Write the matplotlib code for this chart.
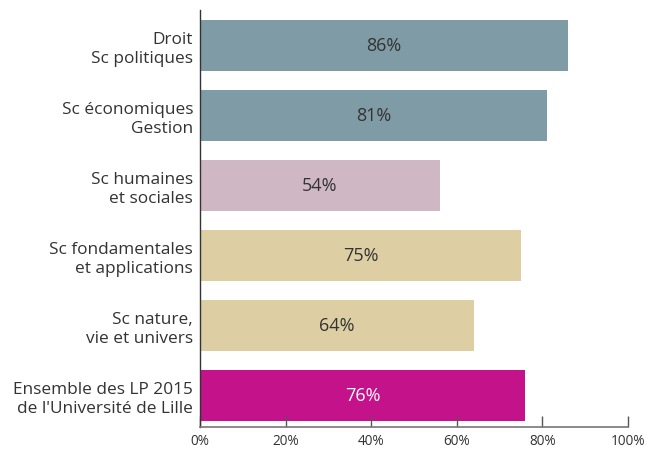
import matplotlib
matplotlib.use("Agg")
from matplotlib import pyplot as plt

categories = ["Droit\nSc politiques", "Sc économiques\nGestion", "Sc humaines\net sociales",
              "Sc fondamentales\net applications", "Sc nature,\nvie et univers",
              "Ensemble des LP 2015\nde l'Université de Lille"]
values = [86, 81, 56, 75, 64, 76]
labels = ["86%", "81%", "54%", "75%", "64%", "76%"]
colors = ["#7f9ca6", "#7f9ca6", "#cfb8c4", "#ddcfa3", "#ddcfa3", "#c4128a"]
label_colors = ["#333333"] * 5 + ["#ffffff"]
xticks = [0, 20, 40, 60, 80, 100]

plt.rcParams['font.family'] = ['Open Sans', 'DejaVu Sans']

fig = plt.figure(figsize=(6.51, 4.5), dpi=100)
ax = fig.add_axes([0.3072, 0.0511, 0.6575, 0.9267])

ypos = list(range(len(categories)))
ax.barh(ypos, values, height=0.73, color=colors)
for y, v, lab, c in zip(ypos, values, labels, label_colors):
    ax.text(v / 2, y, lab, ha='center', va='center', color=c, fontsize=13)

ax.set_xlim(0, 100)
ax.set_ylim(5.45, -0.51)
ax.set_yticks(ypos)
ax.set_yticklabels(categories, fontsize=12.4, color='#333333', ha='right', linespacing=1.25)
ax.tick_params(axis='y', length=0, pad=5)
ax.set_xticks(xticks)
ax.set_xticklabels(["{0}%".format(t) for t in xticks], fontsize=9.8, color='#333333')
ax.tick_params(axis='x', direction='in', length=8, width=1, color='#555555', pad=5)

for s in ['top', 'right']:
    ax.spines[s].set_visible(False)
ax.spines['bottom'].set_color('#777777')
ax.spines['bottom'].set_linewidth(1.2)
ax.spines['left'].set_color('#333333')
ax.spines['left'].set_linewidth(1)

fig.savefig('out.png', dpi=100)
